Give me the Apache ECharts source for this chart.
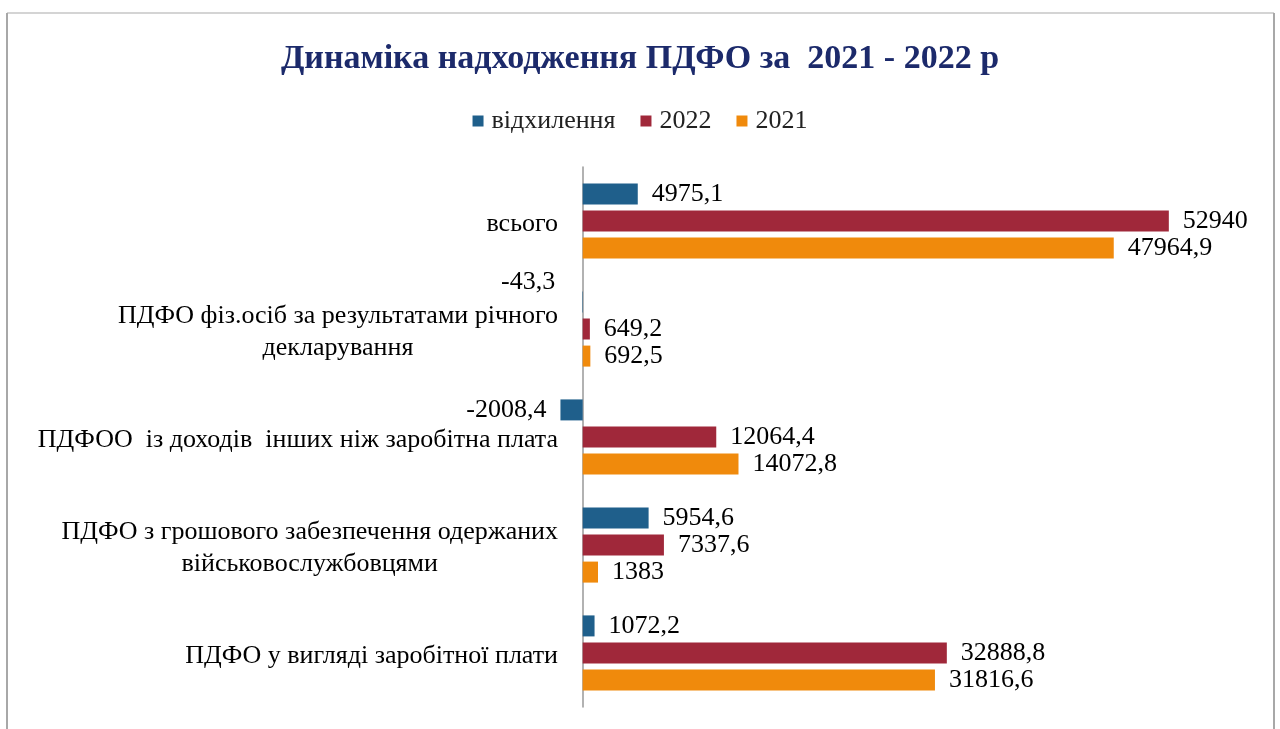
<!DOCTYPE html>
<html>
<head>
<meta charset="utf-8">
<script src="https://cdn.jsdelivr.net/npm/echarts@6/dist/echarts.min.js"></script>
<style>
  html, body { margin: 0; padding: 0; background: #fff; }
  #chart { width: 1280px; height: 729px; }
</style>
</head>
<body>
<div id="chart"></div>
<script>
// категорії знизу догори (як у вихідній діаграмі)
const categories = [
  'ПДФО у вигляді заробітної плати',
  'ПДФО з грошового забезпечення одержаних\nвійськовослужбовцями',
  'ПДФОО  із доходів  інших ніж заробітна плата',
  'ПДФО фіз.осіб за результатами річного\nдекларування',
  'всього'
];
const values2021 = [31816.6, 1383, 14072.8, 692.5, 47964.9];
const values2022 = [32888.8, 7337.6, 12064.4, 649.2, 52940];
const valuesDiff = [1072.2, 5954.6, -2008.4, -43.3, 4975.1];

const serif = '"Liberation Serif", "Times New Roman", serif';
const fmt = v => String(v).replace('.', ',');

// мітки для від'ємних значень - зліва від осі
function diffData() {
  return valuesDiff.map((v, i) => {
    if (v >= 0) return v;
    const item = { value: v, label: { position: 'left' } };
    if (i === 3) item.label.offset = [-13, -20]; // -43,3 трохи вище, як у оригіналі
    return item;
  });
}

const chart = echarts.init(document.getElementById('chart'));

const labelCommon = {
  show: true,
  position: 'right',
  distance: 14,
  color: '#000',
  fontFamily: serif,
  fontSize: 26,
  formatter: p => fmt(p.value)
};

chart.setOption({
  animation: false,
  title: {
    text: 'Динаміка надходження ПДФО за  2021 - 2022 р',
    left: 'center',
    top: 37,
    textStyle: {
      fontFamily: serif,
      fontWeight: 'bold',
      fontSize: 34,
      color: '#1c2a6b'
    }
  },
  legend: {
    data: ['відхилення', '2022', '2021'],
    top: 103,
    left: 'center',
    itemWidth: 11,
    itemHeight: 11,
    itemGap: 25,
    icon: 'rect',
    textStyle: { fontFamily: serif, fontSize: 26, color: '#222', padding: [0, 0, 0, 3] }
  },
  graphic: [
    {
      type: 'line',
      shape: { x1: 7, y1: 13, x2: 1274, y2: 13 },
      style: { stroke: '#d4d4d4', lineWidth: 2 },
      silent: true
    },
    {
      type: 'line',
      shape: { x1: 7, y1: 13, x2: 7, y2: 729 },
      style: { stroke: '#a8a8a8', lineWidth: 2 },
      silent: true
    },
    {
      type: 'line',
      shape: { x1: 1274, y1: 13, x2: 1274, y2: 729 },
      style: { stroke: '#a8a8a8', lineWidth: 2 },
      silent: true
    }
  ],
  grid: {
    left: 555,
    right: 33,
    top: 167,
    height: 540
  },
  xAxis: {
    type: 'value',
    min: -2500,
    max: 60000,
    show: false
  },
  yAxis: {
    type: 'category',
    data: categories,
    axisTick: { show: false },
    axisLine: { show: true, onZero: true, lineStyle: { color: '#999', width: 1.5 } },
    axisLabel: {
      margin: -3,
      color: '#000',
      padding: [6, 0, 0, 0],
      formatter: v => v.split('\n').map(l => '{c|' + l + '}').join('\n'),
      rich: {
        c: { fontFamily: serif, fontSize: 26, lineHeight: 32, align: 'center', color: '#000' }
      }
    }
  },
  series: [
    {
      name: 'відхилення',
      type: 'bar',
      data: diffData(),
      barWidth: 21,
      barGap: '29%',
      itemStyle: { color: '#1f5f8b' },
      label: labelCommon
    },
    {
      name: '2022',
      type: 'bar',
      data: values2022,
      barWidth: 21,
      barGap: '29%',
      itemStyle: { color: '#a0283a' },
      label: labelCommon
    },
    {
      name: '2021',
      type: 'bar',
      data: values2021,
      barWidth: 21,
      barGap: '29%',
      itemStyle: { color: '#f08a0c' },
      label: labelCommon
    }
  ]
});
</script>
</body>
</html>
